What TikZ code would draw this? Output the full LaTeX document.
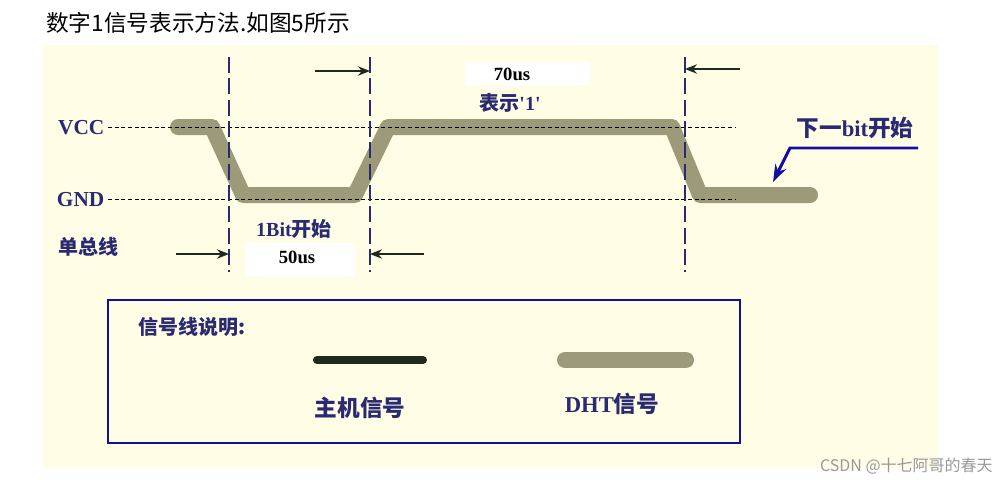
\documentclass[tikz,border=0pt]{standalone}
\usepackage{fontspec}
\setmainfont{Liberation Serif}
\newfontfamily\cjk{Noto Sans CJK SC}
\usetikzlibrary{arrows.meta}
\definecolor{cream}{HTML}{FFFDE6}
\definecolor{olive}{HTML}{9C9A78}
\definecolor{navy}{HTML}{2A2A70}
\definecolor{hostc}{HTML}{1E2A1E}
\definecolor{bluec}{HTML}{1010A0}
\tikzset{
 vdash/.style={navy,line width=0.8pt,dash pattern=on 12pt off 4pt},
 hdash/.style={black,line width=0.6pt,dash pattern=on 3pt off 2pt},
 dht/.style={olive,line width=12pt,line cap=round,line join=round},
 meas/.style={hostc,line width=2.2pt,-{Stealth[length=9pt,width=7pt]}},
 lbl/.style={font=\bfseries\cjk\fontsize{15}{17}\selectfont,text=navy,inner sep=1pt},
 lat/.style={font=\bfseries\fontsize{16}{18}\selectfont,text=navy,inner sep=1pt}
}
\begin{document}
\begin{tikzpicture}[x=0.75pt,y=-0.75pt]
\useasboundingbox (0,0) rectangle (1007,483);
\fill[white] (0,0) rectangle (1007,483);
\fill[cream] (43,45) rectangle (938,468);
\node[anchor=west,font=\cjk\fontsize{17}{20}\selectfont,inner sep=0pt] (title) at (46,23) {数字1信号表示方法.如图5所示};
\fill[white] (465,62) rectangle (590,85);
\fill[white] (245,243) rectangle (355,276);
\coordinate (v0) at (108,127); \coordinate (v1) at (735,127);
\coordinate (g0) at (108,199); \coordinate (g1) at (735,199);
\draw[dht] (178,127) -- (212,127) -- (243,195) -- (355,195) -- (388,127) -- (672,127) -- (700,195) -- (810,195);
\draw[hdash] (v0) -- (v1);
\draw[hdash] (g0) -- (g1);
\foreach \x/\n in {229/a,370/b,685/c}{
 \coordinate (\n t) at (\x,57); \coordinate (\n b) at (\x,272);
 \draw[vdash] (\n t) -- (\n b);}
\coordinate (m1s) at (315,71); \coordinate (m1e) at (370,71);
\coordinate (m2s) at (740,69); \coordinate (m2e) at (685,69);
\coordinate (m3s) at (176,254); \coordinate (m3e) at (229,254);
\coordinate (m4s) at (424,254); \coordinate (m4e) at (370,254);
\draw[meas] (m1s) -- (m1e);
\draw[meas] (m2s) -- (m2e);
\draw[meas] (m3s) -- (m3e);
\draw[meas] (m4s) -- (m4e);
\node[lat,font=\bfseries\fontsize{14}{16}\selectfont,text=black] (t70) at (512,74) {70us};
\node[lbl] (rep) at (510,103) {表示\fontspec{Liberation Serif}\bfseries'1'};
\node[lbl] (bit) at (294,229) {\fontspec{Liberation Serif}\bfseries 1Bit\cjk 开始};
\node[lat,font=\bfseries\fontsize{14}{16}\selectfont,text=black] (t50) at (297,257) {50us};
\node[lat,anchor=east] (vcc) at (106,128) {VCC};
\node[lat,anchor=east] (gnd) at (106,200) {GND};
\node[lbl] (bus) at (88,247) {单总线};
\node[lbl,font=\bfseries\cjk\fontsize{17}{19}\selectfont] (next) at (855,128) {下一\fontspec{Liberation Serif}\bfseries bit\cjk 开始};
\coordinate (n0) at (918,148); \coordinate (n1) at (790,148); \coordinate (n2) at (773,182);
\draw[bluec,line width=2.2pt,-{Stealth[length=13pt,width=9pt]}] (n0) -- (n1) -- (n2);
\draw[bluec,line width=2.2pt] (108,300) rectangle (740,443);
\node[lbl,anchor=west] (leg) at (137,327) {信号线说明:};
\coordinate (h0) at (317,360); \coordinate (h1) at (423,360);
\draw[hostc,line width=6pt,line cap=round] (h0) -- (h1);
\coordinate (d0) at (565,360); \coordinate (d1) at (686,360);
\draw[olive,line width=12pt,line cap=round] (d0) -- (d1);
\node[lbl,font=\bfseries\cjk\fontsize{17}{19}\selectfont] (host) at (360,408) {主机信号};
\node[lbl,font=\bfseries\cjk\fontsize{17}{19}\selectfont] (dhtl) at (612,404) {\fontspec{Liberation Serif}\bfseries DHT\cjk 信号};
\node[font=\cjk\fontsize{12}{14}\selectfont,text=gray!80,anchor=east,inner sep=0pt] (wm) at (993,466) {CSDN @十七阿哥的春天};
\end{tikzpicture}
\end{document}
